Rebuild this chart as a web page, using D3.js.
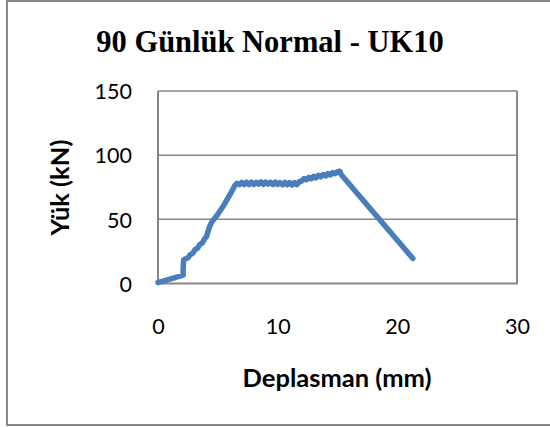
<!DOCTYPE html>
<html>
<head>
<meta charset="utf-8">
<script src="https://cdn.jsdelivr.net/npm/d3@7"></script>
<style>
  html, body { margin: 0; padding: 0; background: #fff; }
  svg { display: block; }
</style>
</head>
<body>
<svg id="chart" width="550" height="427"></svg>
<script>
// Load–displacement record for specimen UK10 (90-day, normal curing)
const displacement = [0, 0.5, 1.2, 2.1, 2.1, 2.15, 2.5, 2.7, 2.9, 3.1, 3.3, 3.5, 3.7, 3.9, 4.05, 4.2, 4.3, 4.5,
  5.0, 5.5, 6.0, 6.4, 6.6,
  6.8, 7.0, 7.2, 7.4, 7.6, 7.8, 8.0, 8.2, 8.4, 8.6, 8.8, 9.0, 9.2, 9.4, 9.6, 9.8, 10.0, 10.2, 10.4, 10.6, 10.8, 11.0, 11.2, 11.4, 11.6, 11.8,
  12.0, 12.2, 12.4, 12.6, 12.8, 13.0, 13.2, 13.4, 13.6, 13.8, 14.0, 14.2, 14.4, 14.6, 14.8, 15.0, 15.2, 15.3, 21.3];
const load = [0.8, 2, 4, 6.5, 12, 18.5, 20, 22.5, 23.5, 26.5, 27.5, 30.5, 31.5, 35, 36.5, 41, 44, 48,
  54, 61, 69, 76, 78,
  77.0, 78.8, 77.1, 78.9, 77.2, 79.0, 77.2, 78.9, 77.4, 79.1, 77.3, 79.0, 77.5, 78.9, 77.2, 79.0, 77.2, 78.7, 77.0, 78.7, 76.9, 78.6, 76.8, 78.6, 77.0, 79.3,
  79.8, 81.8, 80.8, 82.7, 81.6, 83.5, 82.3, 84.2, 83.1, 84.9, 83.8, 85.7, 84.6, 86.4, 85.5, 87.2, 87.5, 85, 19.5];
const xTicks = [0, 10, 20, 30];
const yTicks = [0, 50, 100, 150];
const gridTicks = [50, 100, 150];

const chartTitle = "90 Günlük Normal - UK10";
const xTitle = "Deplasman (mm)";
const yTitle = "Yük (kN)";

const svg = d3.select("#chart");
const gray = "#878787";
const blue = "#4A7EBB";

// outer chart frame
svg.append("rect")
  .attr("x", 7).attr("y", 1).attr("width", 560).attr("height", 424)
  .attr("fill", "none").attr("stroke", gray).attr("stroke-width", 2);

const x = d3.scaleLinear().domain([0, 30]).range([158, 517]);
const y = d3.scaleLinear().domain([0, 150]).range([283.5, 91]);

// horizontal gridlines
svg.append("g").selectAll("line").data(gridTicks).join("line")
  .attr("x1", x(0)).attr("x2", x(30))
  .attr("y1", d => y(d)).attr("y2", d => y(d))
  .attr("stroke", gray).attr("stroke-width", 1.5);

// plot-area border (left, bottom, right)
svg.append("path")
  .attr("d", `M${x(30)},${y(150)}V${y(0)}H${x(0)}V${y(150)}`)
  .attr("fill", "none").attr("stroke", gray).attr("stroke-width", 2);

// axes (labels only, no tick marks)
const xAxis = svg.append("g")
  .attr("transform", `translate(0,${y(0)})`)
  .call(d3.axisBottom(x).tickValues(xTicks).tickSize(0).tickPadding(0).tickFormat(d3.format("d")));
xAxis.select(".domain").remove();
xAxis.selectAll("text")
  .attr("y", 50).attr("dy", null)
  .attr("font-family", "Lato, sans-serif").attr("font-size", 21.5).attr("fill", "#000");

const yAxis = svg.append("g")
  .attr("transform", `translate(132,0)`)
  .call(d3.axisLeft(y).tickValues(yTicks).tickSize(0).tickPadding(0).tickFormat(d3.format("d")));
yAxis.select(".domain").remove();
yAxis.selectAll("text")
  .attr("x", 0).attr("dy", "0.36em")
  .attr("font-family", "Lato, sans-serif").attr("font-size", 21.5).attr("fill", "#000");

// data line
const pts = displacement.map((d, i) => [d, load[i]]);
svg.append("path")
  .datum(pts)
  .attr("d", d3.line().x(d => x(d[0])).y(d => y(d[1])))
  .attr("fill", "none").attr("stroke", blue).attr("stroke-width", 5.5)
  .attr("stroke-linejoin", "round").attr("stroke-linecap", "round");

// titles
svg.append("text")
  .attr("x", 270).attr("y", 52).attr("text-anchor", "middle")
  .attr("font-family", "'Liberation Serif', 'Times New Roman', serif")
  .attr("font-weight", "bold").attr("font-size", 30.5)
  .text(chartTitle);

svg.append("text")
  .attr("x", 337).attr("y", 387).attr("text-anchor", "middle")
  .attr("font-family", "Lato, sans-serif").attr("font-weight", "bold").attr("font-size", 25.5)
  .text(xTitle);

svg.append("text")
  .attr("transform", "translate(69,187.5) rotate(-90)")
  .attr("text-anchor", "middle")
  .attr("font-family", "Lato, sans-serif").attr("font-weight", "bold").attr("font-size", 25.5)
  .text(yTitle);
</script>
</body>
</html>
